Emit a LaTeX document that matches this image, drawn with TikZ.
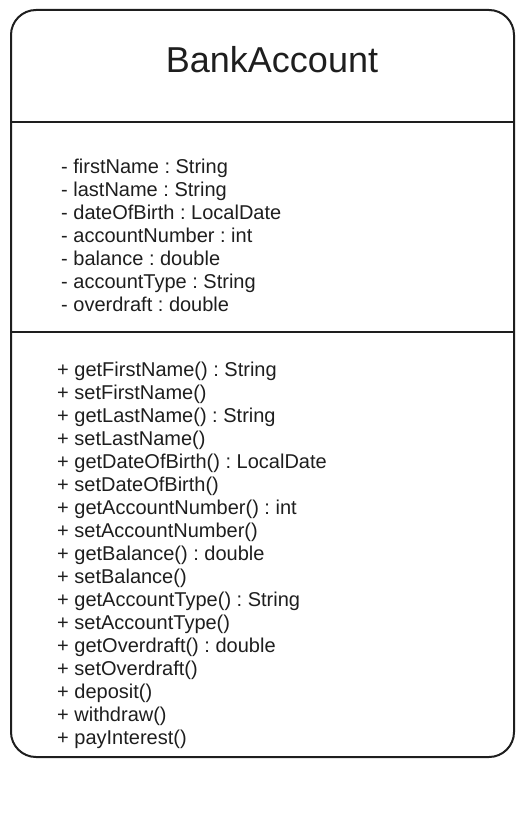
\documentclass[tikz,border=0pt]{standalone}
\usepackage{fontspec}
\setmainfont{Liberation Sans}
\definecolor{ink}{HTML}{1E1E1E}
\frenchspacing
\begin{document}
\begin{tikzpicture}[x=1pt,y=-1pt,
  frame/.style={draw=ink,line width=2pt,line join=round},
  divider/.style={draw=ink,line width=2pt},
  titletext/.style={anchor=base,inner sep=0pt,text=ink,font=\fontsize{36}{40}\selectfont},
  member/.style={anchor=base west,inner sep=0pt,text=ink,font=\fontsize{20}{23}\selectfont\frenchspacing}]
\useasboundingbox (0,0) rectangle (525,826);
\draw[frame,rounded corners=25pt] (11,10) rectangle (514,757);
\coordinate (d1l) at (11,122.5);
\coordinate (d1r) at (514,122.5);
\coordinate (d2l) at (11,331.5);
\coordinate (d2r) at (514,331.5);
\draw[divider] (d1l) -- (d1r);
\draw[divider] (d2l) -- (d2r);
\node[titletext] (title) at (272,73) {BankAccount};
\foreach \t [count=\i] in {%
  - firstName : String,
  - lastName : String,
  - dateOfBirth : LocalDate,
  - accountNumber : int,
  - balance : double,
  - accountType : String,
  - overdraft : double}
  \node[member,name=attr\i] at (61,{173.5+23*(\i-1)}) {\t};
\foreach \t [count=\i] in {%
  + getFirstName() : String,
  + setFirstName(),
  + getLastName() : String,
  + setLastName(),
  + getDateOfBirth() : LocalDate,
  + setDateOfBirth(),
  + getAccountNumber() : int,
  + setAccountNumber(),
  + getBalance() : double,
  + setBalance(),
  + getAccountType() : String,
  + setAccountType(),
  + getOverdraft() : double,
  + setOverdraft(),
  + deposit(),
  + withdraw(),
  + payInterest()}
  \node[member,name=meth\i] at (57,{376.5+23*(\i-1)}) {\t};
\end{tikzpicture}
\end{document}
